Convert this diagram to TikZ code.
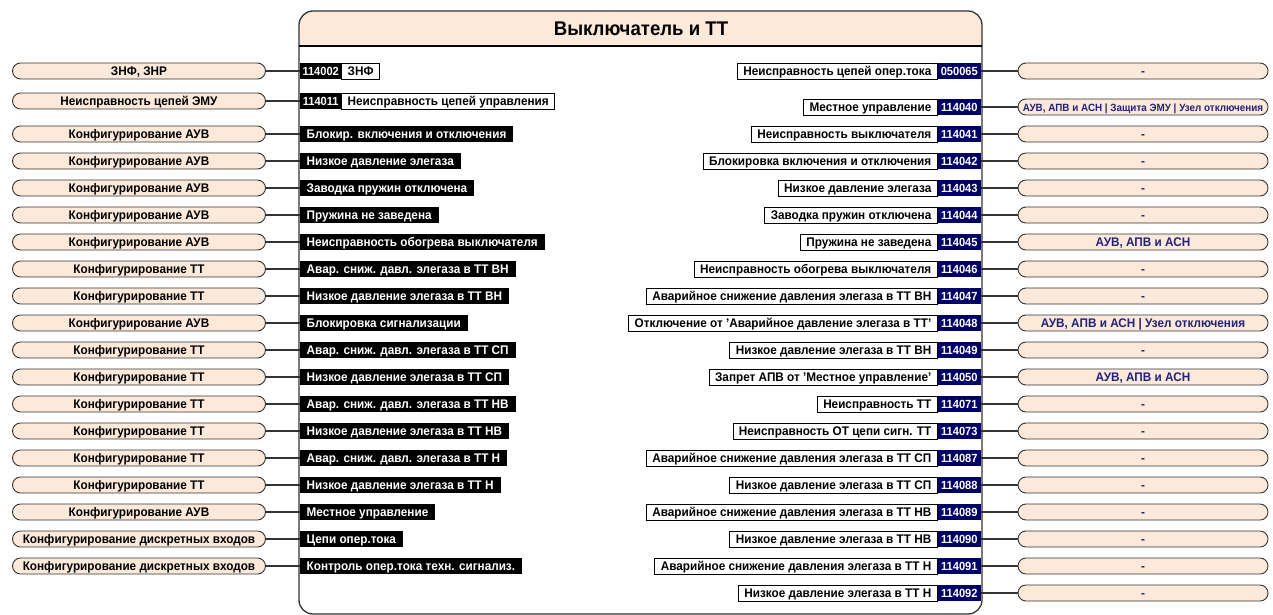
\documentclass[tikz,border=0pt]{standalone}
\usepackage{fontspec}
\setmainfont{Liberation Sans}[FakeStretch=0.94]
\usetikzlibrary{positioning}
\definecolor{pill-fill}{HTML}{FCE9DA}
\definecolor{num-navy}{HTML}{000066}
\definecolor{dst-text}{HTML}{22227A}
\definecolor{link-gray}{HTML}{333333}

\tikzset{
  lbl/.style={minimum height=16pt, inner ysep=0pt, outer sep=0pt,
    text height=9.3pt, text depth=0pt, font=\fontsize{12.5}{14}\selectfont\bfseries},
  srcpill/.style={lbl, draw=link-gray, line width=0.9pt, fill=pill-fill,
    rounded corners=8pt, minimum width=253pt},
  dstpill/.style={srcpill, minimum width=250pt, text=dst-text},
  insig/.style={lbl, fill=black, text=white, inner xsep=7pt},
  innum/.style={lbl, fill=black, text=white, minimum width=42pt, inner xsep=1.5pt,
    text height=8.8pt, font=\fontsize{11.8}{14}\selectfont\bfseries},
  intext/.style={lbl, draw=black, line width=0.8pt, fill=white, inner xsep=6pt},
  outsig/.style={intext},
  outnum/.style={innum, fill=num-navy, minimum width=44pt},
  link/.style={draw=link-gray, line width=1.3pt},
}

% source block on the left, signal going into the breaker block
\newcommand{\srcrow}[4]{%
  \node[srcpill] (src#1) at (139,#2) {#3};
  \node[insig, anchor=west] (sig#1) at (299.7,#2) {#4};
  \draw[link] (src#1) -- (sig#1);
}
% output signal with its number and the blocks that receive it
\newcommand{\dstrow}[5]{%
  \node[outnum, anchor=east] (num#1) at (981.3,#2) {#4};
  \node[outsig, anchor=east] (out#1) at (num#1.west) {#3};
  \node[dstpill] (dst#1) at (1143,#2) {#5};
  \draw[link] (num#1) -- (dst#1);
}

\begin{document}
\begin{tikzpicture}[x=1pt, y=-1pt]
  \useasboundingbox (0,0) rectangle (1273,614);

  % breaker block
  \fill[pill-fill] (299,46) {[rounded corners=14pt] -- (299,11) -- (982,11)} -- (982,46) -- cycle;
  \draw[draw=black!80, line width=1.3pt, rounded corners=14pt] (299,11) rectangle (982,614);
  \draw[line width=2pt] (299,46) -- (982,46);
  \node[font=\fontsize{19.8}{22}\selectfont\bfseries] (title) at (641,29) {Выключатель и ТТ};

  % inputs
  \node[srcpill] (srcznf) at (139,71) {ЗНФ, ЗНР};
  \node[innum, anchor=west] (num114002) at (299.7,71) {114002};
  \node[intext, anchor=west] (sigznf) at (num114002.east) {ЗНФ};
  \draw[link] (srcznf) -- (num114002);

  \node[srcpill] (srcemu) at (139,101) {Неисправность цепей ЭМУ};
  \node[innum, anchor=west] (num114011) at (299.7,101) {114011};
  \node[intext, anchor=west] (sigemu) at (num114011.east) {Неисправность цепей управления};
  \draw[link] (srcemu) -- (num114011);

  \srcrow{a}{134}{Конфигурирование АУВ}{Блокир. включения и отключения}
  \srcrow{b}{161}{Конфигурирование АУВ}{Низкое давление элегаза}
  \srcrow{c}{188}{Конфигурирование АУВ}{Заводка пружин отключена}
  \srcrow{d}{215}{Конфигурирование АУВ}{Пружина не заведена}
  \srcrow{e}{242}{Конфигурирование АУВ}{Неисправность обогрева выключателя}
  \srcrow{f}{269}{Конфигурирование ТТ}{Авар. сниж. давл. элегаза в ТТ ВН}
  \srcrow{g}{296}{Конфигурирование ТТ}{Низкое давление элегаза в ТТ ВН}
  \srcrow{h}{323}{Конфигурирование АУВ}{Блокировка сигнализации}
  \srcrow{i}{350}{Конфигурирование ТТ}{Авар. сниж. давл. элегаза в ТТ СП}
  \srcrow{j}{377}{Конфигурирование ТТ}{Низкое давление элегаза в ТТ СП}
  \srcrow{k}{404}{Конфигурирование ТТ}{Авар. сниж. давл. элегаза в ТТ НВ}
  \srcrow{l}{431}{Конфигурирование ТТ}{Низкое давление элегаза в ТТ НВ}
  \srcrow{m}{458}{Конфигурирование ТТ}{Авар. сниж. давл. элегаза в ТТ Н}
  \srcrow{n}{485}{Конфигурирование ТТ}{Низкое давление элегаза в ТТ Н}
  \srcrow{o}{512}{Конфигурирование АУВ}{Местное управление}
  \srcrow{p}{539}{Конфигурирование дискретных входов}{Цепи опер.тока}
  \srcrow{q}{566}{Конфигурирование дискретных входов}{Контроль опер.тока техн. сигнализ.}

  % outputs
  \dstrow{a}{71}{Неисправность цепей опер.тока}{050065}{-}
  \dstrow{b}{107}{Местное управление}{114040}{\fontsize{10.5}{12}\selectfont АУВ, АПВ и АСН | Защита ЭМУ | Узел отключения}
  \dstrow{c}{134}{Неисправность выключателя}{114041}{-}
  \dstrow{d}{161}{Блокировка включения и отключения}{114042}{-}
  \dstrow{e}{188}{Низкое давление элегаза}{114043}{-}
  \dstrow{f}{215}{Заводка пружин отключена}{114044}{-}
  \dstrow{g}{242}{Пружина не заведена}{114045}{АУВ, АПВ и АСН}
  \dstrow{h}{269}{Неисправность обогрева выключателя}{114046}{-}
  \dstrow{i}{296}{Аварийное снижение давления элегаза в ТТ ВН}{114047}{-}
  \dstrow{j}{323}{Отключение от 'Аварийное давление элегаза в ТТ'}{114048}{АУВ, АПВ и АСН | Узел отключения}
  \dstrow{k}{350}{Низкое давление элегаза в ТТ ВН}{114049}{-}
  \dstrow{l}{377}{Запрет АПВ от 'Местное управление'}{114050}{АУВ, АПВ и АСН}
  \dstrow{m}{404}{Неисправность ТТ}{114071}{-}
  \dstrow{n}{431}{Неисправность ОТ цепи сигн. ТТ}{114073}{-}
  \dstrow{o}{458}{Аварийное снижение давления элегаза в ТТ СП}{114087}{-}
  \dstrow{p}{485}{Низкое давление элегаза в ТТ СП}{114088}{-}
  \dstrow{q}{512}{Аварийное снижение давления элегаза в ТТ НВ}{114089}{-}
  \dstrow{r}{539}{Низкое давление элегаза в ТТ НВ}{114090}{-}
  \dstrow{s}{566}{Аварийное снижение давления элегаза в ТТ Н}{114091}{-}
  \dstrow{t}{593}{Низкое давление элегаза в ТТ Н}{114092}{-}
\end{tikzpicture}
\end{document}
